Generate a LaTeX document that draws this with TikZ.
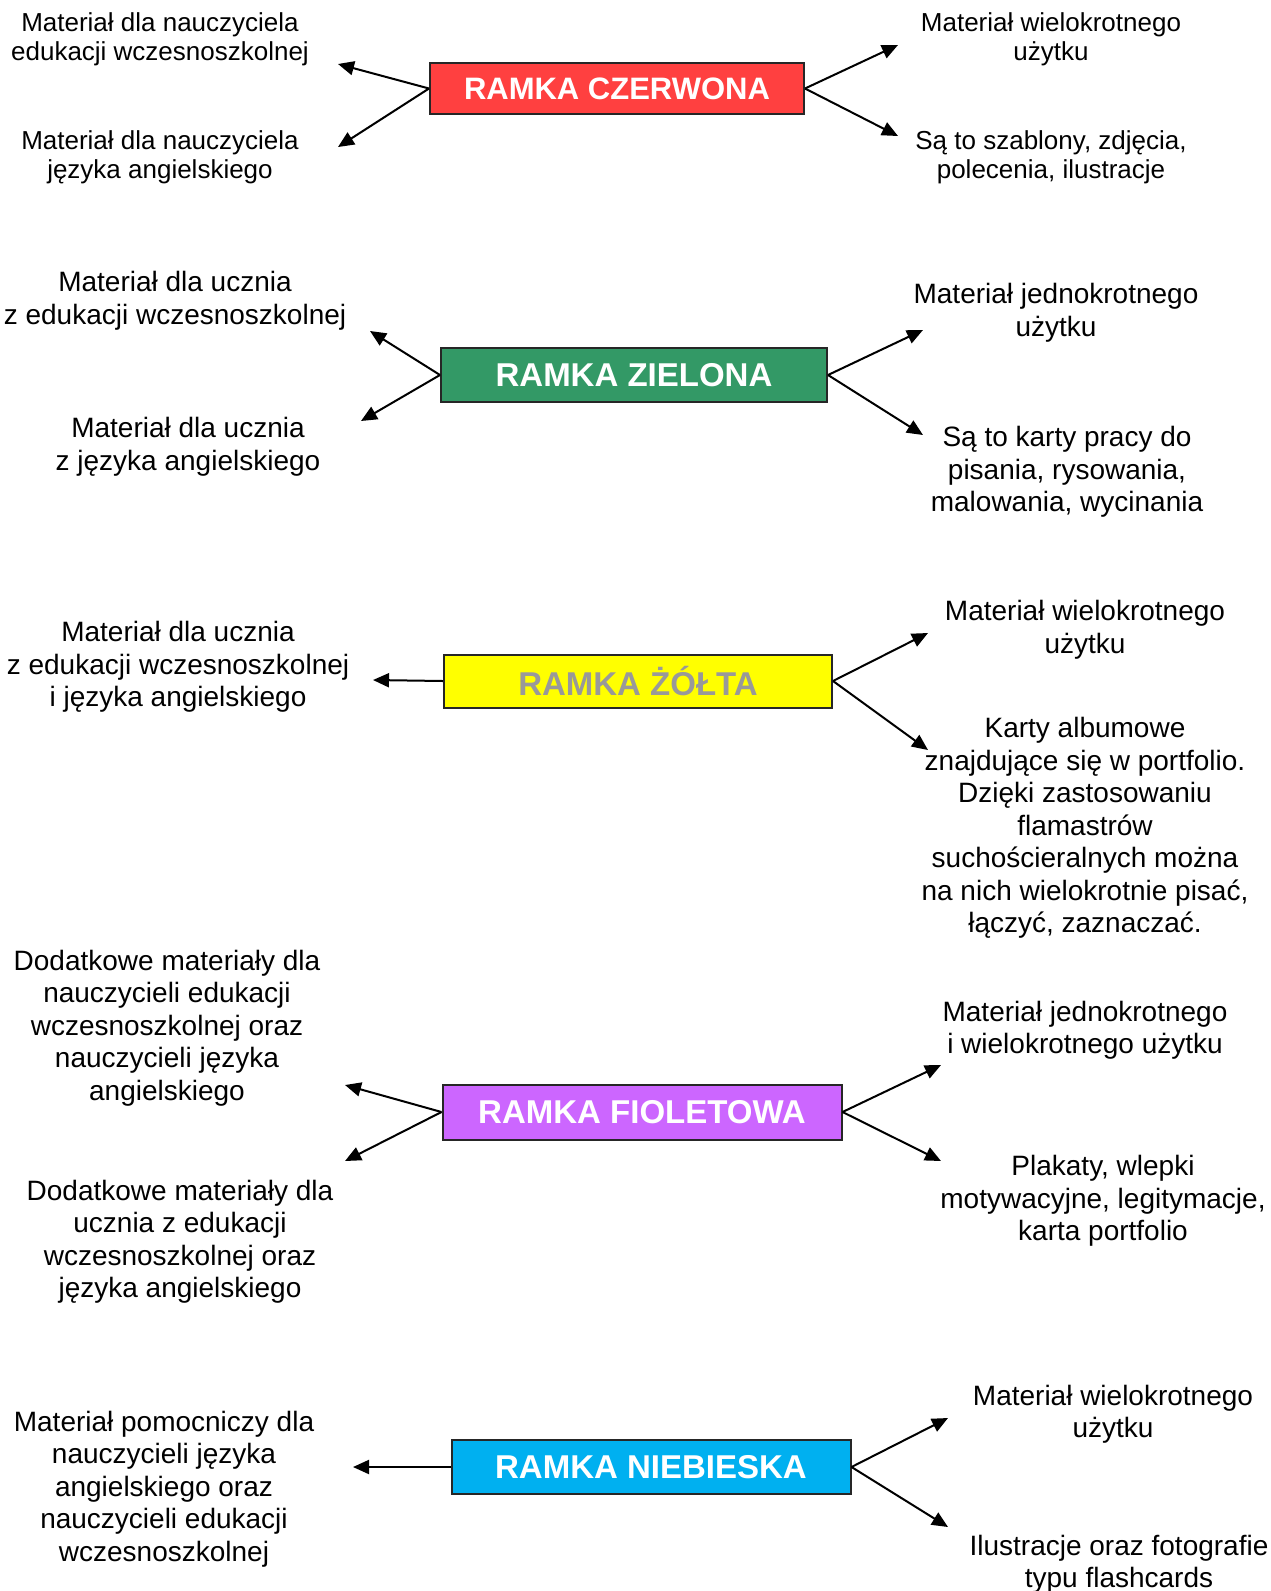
\documentclass[tikz,border=0pt]{standalone}
\usepackage{fontspec}
\setmainfont{Liberation Sans}
\usetikzlibrary{arrows.meta}
\definecolor{czerwony}{HTML}{FF4040}
\definecolor{zielony}{HTML}{339966}
\definecolor{zolty}{HTML}{FFFF00}
\definecolor{fioletowy}{HTML}{CC66FF}
\definecolor{niebieski}{HTML}{00B0F0}
\tikzset{
  ramka/.style={draw=black!85, line width=2pt, minimum height=53, inner sep=0pt,
    font=\fontsize{33}{37}\selectfont\bfseries, text=white},
  opis/.style={align=center, inner sep=0pt, yshift=-3pt, font=\fontsize{28}{32.5}\selectfont},
  opismaly/.style={align=center, inner sep=0pt, yshift=-2pt, font=\fontsize{26}{29.4}\selectfont},
  strzalka/.style={line width=2pt, -{Triangle[length=16pt,width=14pt]}}
}

\begin{document}
\begin{tikzpicture}[x=1pt, y=-1pt]
			%%%%% START %%%%%
			\useasboundingbox (0,0) rectangle (1271,1591);
			
			% ramka czerwona
			\node[ramka, fill=czerwony, minimum width=374, minimum height=51, font=\fontsize{31}{35}\selectfont\bfseries] (czerwona) at (617, 88.5) {RAMKA CZERWONA};
			\coordinate (cz1) at (338, 64);
			\coordinate (cz2) at (338, 147);
			\coordinate (cz3) at (898, 45);
			\coordinate (cz4) at (898, 136);
			\draw[strzalka] (czerwona.west) -- (cz1);
			\draw[strzalka] (czerwona.west) -- (cz2);
			\draw[strzalka] (czerwona.east) -- (cz3);
			\draw[strzalka] (czerwona.east) -- (cz4);
			\node[opismaly] (czt1) at (160, 37) {Materiał dla nauczyciela\\edukacji wczesnoszkolnej};
			\node[opismaly] (czt2) at (160, 155) {Materiał dla nauczyciela\\języka angielskiego};
			\node[opismaly] (czt3) at (1051, 37) {Materiał wielokrotnego\\użytku};
			\node[opismaly] (czt4) at (1051, 155) {Są to szablony, zdjęcia,\\polecenia, ilustracje};
			
			% ramka zielona
			\node[ramka, fill=zielony, minimum width=386, minimum height=54] (zielona) at (634, 375) {RAMKA ZIELONA};
			\coordinate (zi1) at (370, 331);
			\coordinate (zi2) at (361, 421);
			\coordinate (zi3) at (923, 330);
			\coordinate (zi4) at (923, 435);
			\draw[strzalka] (zielona.west) -- (zi1);
			\draw[strzalka] (zielona.west) -- (zi2);
			\draw[strzalka] (zielona.east) -- (zi3);
			\draw[strzalka] (zielona.east) -- (zi4);
			\node[opis] (zit1) at (175, 298) {Materiał dla ucznia\\z edukacji wczesnoszkolnej};
			\node[opis] (zit2) at (188, 444) {Materiał dla ucznia\\z języka angielskiego};
			\node[opis] (zit3) at (1056, 310) {Materiał jednokrotnego\\użytku};
			\node[opis] (zit4) at (1067, 469) {Są to karty pracy do\\pisania, rysowania,\\malowania, wycinania};
			
			% ramka zolta
			\node[ramka, fill=zolty, text=black!40, minimum width=388] (zolta) at (638, 681) {RAMKA ŻÓŁTA};
			\coordinate (zo1) at (373, 680);
			\coordinate (zo2) at (928, 633);
			\coordinate (zo3) at (928, 750);
			\draw[strzalka] (zolta.west) -- (zo1);
			\draw[strzalka] (zolta.east) -- (zo2);
			\draw[strzalka] (zolta.east) -- (zo3);
			\node[opis] (zot1) at (178, 664) {Materiał dla ucznia\\z edukacji wczesnoszkolnej\\i języka angielskiego};
			\node[opis] (zot2) at (1085, 627) {Materiał wielokrotnego\\użytku};
			\node[opis] (zot3) at (1085, 825) {Karty albumowe\\znajdujące się w portfolio.\\Dzięki zastosowaniu\\flamastrów\\suchościeralnych można\\na nich wielokrotnie pisać,\\łączyć, zaznaczać.};
			
			% ramka fioletowa
			\node[ramka, fill=fioletowy, minimum width=399, minimum height=55] (fioletowa) at (642, 1112) {RAMKA FIOLETOWA};
			\coordinate (fi1) at (345, 1085);
			\coordinate (fi2) at (345, 1161);
			\coordinate (fi3) at (941, 1065);
			\coordinate (fi4) at (941, 1161);
			\draw[strzalka] (fioletowa.west) -- (fi1);
			\draw[strzalka] (fioletowa.west) -- (fi2);
			\draw[strzalka] (fioletowa.east) -- (fi3);
			\draw[strzalka] (fioletowa.east) -- (fi4);
			\node[opis] (fit1) at (167, 1025) {Dodatkowe materiały dla\\nauczycieli edukacji\\wczesnoszkolnej oraz\\nauczycieli języka\\angielskiego};
			\node[opis] (fit2) at (180, 1239) {Dodatkowe materiały dla\\ucznia z edukacji\\wczesnoszkolnej oraz\\języka angielskiego};
			\node[opis] (fit3) at (1085, 1027) {Materiał jednokrotnego\\i wielokrotnego użytku};
			\node[opis] (fit4) at (1103, 1198) {Plakaty, wlepki\\motywacyjne, legitymacje,\\karta portfolio};
			
			% ramka niebieska
			\node[ramka, fill=niebieski, minimum width=399, minimum height=54] (niebieska) at (651, 1467) {RAMKA NIEBIESKA};
			\coordinate (ni1) at (353, 1467);
			\coordinate (ni2) at (948, 1418);
			\coordinate (ni3) at (948, 1527);
			\draw[strzalka] (niebieska.west) -- (ni1);
			\draw[strzalka] (niebieska.east) -- (ni2);
			\draw[strzalka] (niebieska.east) -- (ni3);
			\node[opis] (nit1) at (164, 1486) {Materiał pomocniczy dla\\nauczycieli języka\\angielskiego oraz\\nauczycieli edukacji\\wczesnoszkolnej};
			\node[opis] (nit2) at (1113, 1411) {Materiał wielokrotnego\\użytku};
			\node[opis] (nit3) at (1119, 1561) {Ilustracje oraz fotografie\\typu flashcards};
			
			%%%%% END %%%%%
\end{tikzpicture}
\end{document}
